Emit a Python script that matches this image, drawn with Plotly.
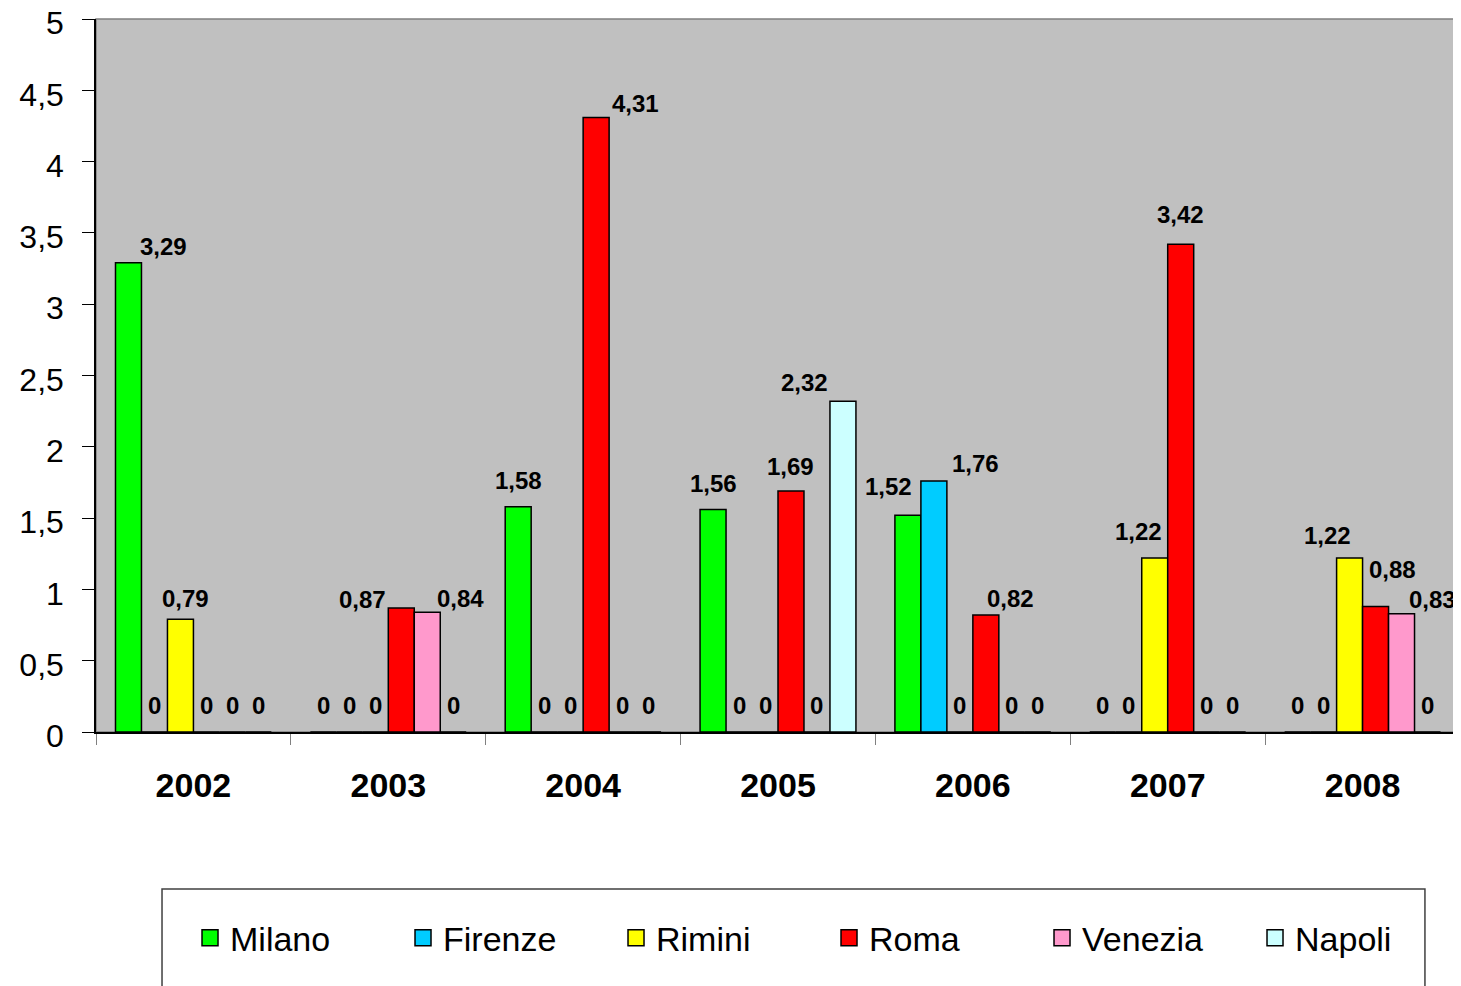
import plotly.graph_objects as go

# ---------------- data ----------------
YEARS = ["2002", "2003", "2004", "2005", "2006", "2007", "2008"]
SERIES = ["Milano", "Firenze", "Rimini", "Roma", "Venezia", "Napoli"]
MILANO = [3.29, 0, 1.58, 1.56, 1.52, 0, 0]
FIRENZE = [0, 0, 0, 0, 1.76, 0, 0]
RIMINI = [0.79, 0, 0, 0, 0, 1.22, 1.22]
ROMA = [0, 0.87, 4.31, 1.69, 0.82, 3.42, 0.88]
VENEZIA = [0, 0.84, 0, 0, 0, 0, 0.83]
NAPOLI = [0, 0, 0, 2.32, 0, 0, 0]
Y_TICKS = [0, 0.5, 1, 1.5, 2, 2.5, 3, 3.5, 4, 4.5, 5]

VALUES = [MILANO, FIRENZE, RIMINI, ROMA, VENEZIA, NAPOLI]

# ---------------- style ----------------
COLORS = ["#00FF00", "#00CCFF", "#FFFF00", "#FF0000", "#FF99CC", "#CCFFFF"]
FONT = "Liberation Sans, Arial, sans-serif"
BARGAP = 0.2

# label nudges in pixels: (dx from bar centre, dy of label centre above bar top)
LABEL_NUDGE = {
    (0, 0): (35, 16), (2, 0): (5, 21),
    (3, 1): (-39, 8), (4, 1): (33, 14),
    (0, 2): (0, 26), (3, 2): (39, 14),
    (0, 3): (0, 26), (3, 3): (0, 25), (5, 3): (-38, 19),
    (0, 4): (-19, 29), (1, 4): (42, 18), (3, 4): (25, 17),
    (2, 5): (-16, 27), (3, 5): (0, 30),
    (2, 6): (-22, 23), (3, 6): (17, 37), (4, 6): (31, 14),
}
ZERO_NUDGE = (0, 27)

fig = go.Figure()
for s, (name, vals, col) in enumerate(zip(SERIES, VALUES, COLORS)):
    fig.add_trace(go.Bar(
        name=name, x=YEARS, y=vals, legendgroup=name, showlegend=False,
        marker=dict(color=col, line=dict(color="#000000", width=1.5)),
        hoverinfo="x+y+name",
    ))
# legend entries with larger square swatches (linked to the bars by legendgroup)
for name, col in zip(SERIES, COLORS):
    fig.add_trace(go.Scatter(
        name=name, x=[None], y=[None], mode="markers", legendgroup=name,
        marker=dict(symbol="square", size=16, color=col,
                    line=dict(color="#000000", width=1.5)),
        hoverinfo="skip",
    ))

n = len(SERIES)
slot = (1 - BARGAP) / n
annotations = []
for s, vals in enumerate(VALUES):
    for i, v in enumerate(vals):
        xpos = i - (1 - BARGAP) / 2 + (s + 0.5) * slot
        dx, dy = LABEL_NUDGE.get((s, i), ZERO_NUDGE)
        annotations.append(dict(
            x=xpos, y=v, xref="x", yref="y",
            text=f"{v:.2f}".replace(".", ",") if v else "0",
            showarrow=False, xanchor="center", yanchor="middle",
            xshift=dx, yshift=dy,
            font=dict(family=FONT, size=24, color="#000000", weight="bold"),
        ))

# the page body has an 8px margin, so the figure is 8px smaller each way
fig.update_layout(
    width=1453, height=978,
    margin=dict(l=88, r=1, t=11, b=254, pad=0, autoexpand=False),
    paper_bgcolor="#FFFFFF", plot_bgcolor="#C0C0C0",
    barmode="group", bargap=BARGAP, bargroupgap=0,
    separators=",.",
    font=dict(family=FONT, color="#000000"),
    annotations=annotations,
    showlegend=True,
    legend=dict(
        orientation="h", x=0.5374, xanchor="center", y=-0.289, yanchor="middle",
        font=dict(family=FONT, size=34, color="#000000"),
        bgcolor="rgba(0,0,0,0)", borderwidth=0,
        entrywidth=168, entrywidthmode="pixels", traceorder="normal",
    ),
    shapes=[
        dict(type="rect", xref="paper", yref="paper", x0=0, x1=1, y0=0, y1=1,
             line=dict(color="#808080", width=1.5), fillcolor="rgba(0,0,0,0)",
             layer="below"),
        dict(type="rect", xref="paper", yref="paper",
             x0=0.0484, x1=0.9743, y0=-0.2202, y1=-0.40,
             line=dict(color="#404040", width=1.5), fillcolor="#FFFFFF",
             layer="below"),
    ],
)

fig.update_yaxes(
    range=[0, 5], tickvals=Y_TICKS, tickformat=".1~f",
    showgrid=False, zeroline=False,
    showline=True, linecolor="#000000", linewidth=1.5,
    ticks="outside", ticklen=12, tickwidth=1.2, tickcolor="#000000",
    ticklabelstandoff=12, ticklabeloverflow="allow", ticklabelshift=4,
    tickfont=dict(family=FONT, size=32, color="#000000"),
)
fig.update_xaxes(
    type="category", tickson="boundaries",
    showgrid=False, zeroline=False,
    showline=True, linecolor="#000000", linewidth=1.5,
    ticks="outside", ticklen=11, tickwidth=1.2, tickcolor="#808080",
    ticklabelstandoff=22,
    tickfont=dict(family=FONT, size=34, color="#000000", weight="bold"),
)

fig.write_html("out.html")
